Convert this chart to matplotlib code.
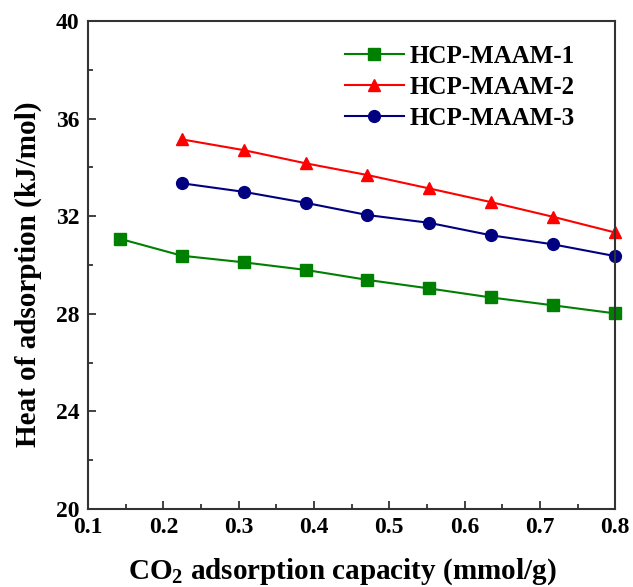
import matplotlib
matplotlib.use('Agg')
import matplotlib.pyplot as plt
from matplotlib.ticker import MultipleLocator

plt.rcParams['font.family'] = 'Liberation Serif'
plt.rcParams['font.weight'] = 'bold'
plt.rcParams['axes.labelweight'] = 'bold'
plt.rcParams['mathtext.fontset'] = 'custom'
plt.rcParams['mathtext.rm'] = 'Liberation Serif:bold'
plt.rcParams['mathtext.default'] = 'rm'

# CO2 uptake (mmol/g) and isosteric heat (kJ/mol)
uptake_1 = [0.143, 0.225, 0.307, 0.389, 0.471, 0.553, 0.635, 0.717, 0.799]
heat_1 = [31.07, 30.38, 30.11, 29.80, 29.39, 29.04, 28.67, 28.35, 28.02]

uptake_2 = [0.225, 0.307, 0.389, 0.471, 0.553, 0.635, 0.717, 0.799]
heat_2 = [35.15, 34.71, 34.17, 33.69, 33.14, 32.58, 31.98, 31.34]

uptake_3 = [0.225, 0.307, 0.389, 0.471, 0.553, 0.635, 0.717, 0.799]
heat_3 = [33.35, 33.00, 32.55, 32.05, 31.73, 31.22, 30.85, 30.37]

labels = ['HCP-MAAM-1', 'HCP-MAAM-2', 'HCP-MAAM-3']

fig = plt.figure(figsize=(6.33, 5.87), dpi=100)
ax = fig.add_axes([0.139, 0.133, 0.833, 0.831])

ax.plot(uptake_1, heat_1, '-s', color='#008000', ms=8, lw=1.5, label=labels[0], clip_on=False)
ax.plot(uptake_2, heat_2, '-^', color='#ff0000', ms=9, lw=1.5, label=labels[1], clip_on=False)
ax.plot(uptake_3, heat_3, '-o', color='#000080', ms=8.5, lw=1.5, label=labels[2], clip_on=False)

ax.set_xlim(0.1, 0.8)
ax.set_ylim(20, 40)
ax.xaxis.set_major_locator(MultipleLocator(0.1))
ax.xaxis.set_minor_locator(MultipleLocator(0.05))
ax.yaxis.set_major_locator(MultipleLocator(4))
ax.yaxis.set_minor_locator(MultipleLocator(2))
ax.tick_params(which='both', direction='in', width=1.3, labelsize=17, color='#333333')
ax.tick_params(axis='x', pad=6)
ax.tick_params(axis='y', pad=6)
ax.tick_params(which='major', length=6)
ax.tick_params(which='minor', length=3.5)
ax.set_xticklabels([f'{v:.1f}' for v in ax.get_xticks()])

for sp in ax.spines.values():
    sp.set_linewidth(1.5)
    sp.set_color('#333333')

ax.set_xlabel('CO$_2$ adsorption capacity (mmol/g)', fontsize=21)
ax.set_ylabel('Heat of adsorption (kJ/mol)', fontsize=21)
ax.xaxis.set_label_coords(0.483, -0.098)
ax.yaxis.set_label_coords(-0.088, 0.482)

ax.legend(loc='upper right', bbox_to_anchor=(0.924, 0.951), frameon=False,
          prop={'weight': 'bold', 'size': 18}, handlelength=2.35,
          handletextpad=0.25, labelspacing=0.32, borderpad=0, borderaxespad=0)

fig.savefig('out.png', dpi=100)
